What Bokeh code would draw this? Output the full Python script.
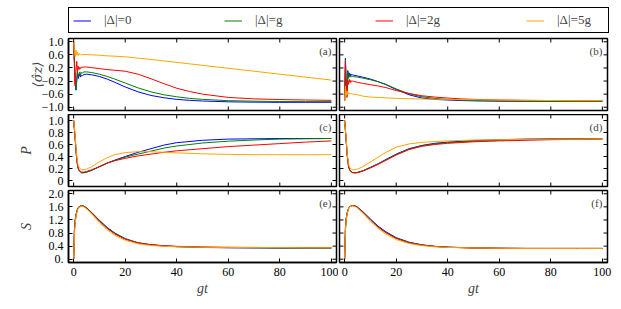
import math
from bokeh.plotting import figure
from bokeh.layouts import column, row
from bokeh.models import Range1d, FixedTicker, Label
from bokeh.embed import file_html
from bokeh.resources import INLINE

# ---------------- data ----------------
series_labels = ["|Δ|=0", "|Δ|=g", "|Δ|=2g", "|Δ|=5g"]
series_colors = ["#0000ff", "#008000", "#ff0000", "#ffa500"]

x_ticks = [0, 20, 40, 60, 80, 100]

# <sigma_z>
t_sz = [0, 0.3, 0.6, 0.9, 1.2, 1.5, 1.8, 2.1, 2.4, 2.7, 3, 3.5, 4, 5, 7, 10, 13, 16, 20,
        25, 30, 35, 40, 45, 50, 60, 70, 80, 90, 100]
sz_a_0 = [1.0, 0.4, -0.3, -0.48, -0.2, 0.05, -0.12, -0.05, 0.02, -0.08, -0.02, -0.03, 0.0, 0.01,
          -0.01, -0.06, -0.14, -0.24, -0.38, -0.53, -0.64, -0.71, -0.76, -0.79, -0.81, -0.835,
          -0.845, -0.85, -0.85, -0.85]
sz_a_g = [1.0, 0.45, -0.25, -0.45, -0.15, 0.1, -0.05, 0.02, 0.08, 0.0, 0.06, 0.05, 0.08, 0.08,
          0.06, 0.01, -0.06, -0.14, -0.26, -0.41, -0.53, -0.62, -0.68, -0.73, -0.76, -0.8,
          -0.815, -0.825, -0.83, -0.83]
sz_a_2g = [1.0, 0.2, -0.35, 0.1, 0.4, 0.1, 0.25, 0.15, 0.22, 0.18, 0.23, 0.22, 0.23, 0.23,
           0.21, 0.18, 0.15, 0.13, 0.1, 0.01, -0.13, -0.28, -0.42, -0.52, -0.6, -0.7, -0.745,
           -0.765, -0.78, -0.79]
sz_a_5g = [1.0, 0.7, 0.55, 0.75, 0.6, 0.68, 0.58, 0.64, 0.6, 0.62, 0.6, 0.61, 0.61, 0.61, 0.6,
           0.59, 0.57, 0.56, 0.54, 0.5, 0.46, 0.415, 0.37, 0.325, 0.28, 0.19, 0.10, 0.01,
           -0.08, -0.17]
sz_b_0 = [-0.8, 0.5, -0.3, -0.65, 0.12, -0.1, 0.05, -0.05, 0.02, -0.02, -0.01, -0.02, -0.03,
          -0.045, -0.08, -0.14, -0.22, -0.31, -0.46, -0.62, -0.72, -0.76, -0.78, -0.795,
          -0.805, -0.815, -0.82, -0.82, -0.82, -0.82]
sz_b_g = [-0.8, 0.45, -0.35, -0.6, 0.08, -0.12, 0.0, -0.08, -0.04, -0.07, -0.06, -0.065,
          -0.07, -0.08, -0.11, -0.16, -0.22, -0.3, -0.44, -0.59, -0.68, -0.73, -0.76, -0.78,
          -0.795, -0.81, -0.815, -0.82, -0.82, -0.82]
sz_b_2g = [-0.8, 0.4, -0.45, -0.7, -0.15, -0.3, -0.15, -0.25, -0.18, -0.22, -0.2, -0.21,
           -0.22, -0.24, -0.27, -0.31, -0.35, -0.4, -0.49, -0.58, -0.65, -0.69, -0.72,
           -0.745, -0.76, -0.78, -0.79, -0.795, -0.8, -0.8]
sz_b_5g = [-0.8, -0.35, -0.65, -0.5, -0.62, -0.55, -0.6, -0.57, -0.6, -0.58, -0.6, -0.6,
           -0.61, -0.62, -0.66, -0.69, -0.7, -0.715, -0.73, -0.74, -0.75, -0.755, -0.76,
           -0.765, -0.77, -0.78, -0.79, -0.795, -0.8, -0.8]
sz_ticks = [-1.0, -0.6, -0.2, 0.2, 0.6, 1.0]
sz_tick_labels = ["−1.0", "−0.6", "−0.2", "0.2", "0.6", "1.0"]

# P
t_p = [0, 0.5, 1, 1.5, 2, 3, 4, 5, 7, 10, 13, 16, 20, 25, 30, 35, 40, 50, 60, 70, 80, 90, 100]
p_c_0 = [1.0, 0.75, 0.45, 0.25, 0.17, 0.13, 0.13, 0.14, 0.17, 0.23, 0.29, 0.34, 0.40, 0.47,
         0.53, 0.59, 0.63, 0.67, 0.69, 0.695, 0.70, 0.70, 0.70]
p_c_g = [1.0, 0.75, 0.45, 0.25, 0.17, 0.13, 0.13, 0.14, 0.17, 0.23, 0.29, 0.335, 0.39, 0.44,
         0.49, 0.54, 0.575, 0.625, 0.655, 0.675, 0.69, 0.695, 0.70]
p_c_2g = [1.0, 0.75, 0.45, 0.26, 0.18, 0.14, 0.14, 0.15, 0.18, 0.23, 0.29, 0.33, 0.37, 0.41,
          0.44, 0.47, 0.495, 0.53, 0.565, 0.59, 0.615, 0.64, 0.66]
p_c_5g = [1.0, 0.8, 0.5, 0.3, 0.22, 0.18, 0.18, 0.19, 0.23, 0.31, 0.38, 0.43, 0.465, 0.48,
          0.48, 0.47, 0.46, 0.445, 0.435, 0.43, 0.43, 0.43, 0.43]
p_d_0 = [1.0, 0.72, 0.42, 0.24, 0.17, 0.135, 0.13, 0.135, 0.16, 0.22, 0.28, 0.35, 0.44, 0.53,
         0.585, 0.62, 0.64, 0.665, 0.68, 0.69, 0.695, 0.695, 0.70]
p_d_g = [1.0, 0.72, 0.42, 0.24, 0.17, 0.135, 0.13, 0.135, 0.16, 0.215, 0.275, 0.345, 0.435,
         0.525, 0.58, 0.61, 0.63, 0.655, 0.67, 0.68, 0.69, 0.695, 0.695]
p_d_2g = [1.0, 0.72, 0.42, 0.24, 0.17, 0.13, 0.125, 0.13, 0.155, 0.21, 0.27, 0.335, 0.425,
          0.515, 0.57, 0.6, 0.62, 0.645, 0.66, 0.67, 0.68, 0.685, 0.69]
p_d_5g = [1.0, 0.75, 0.45, 0.28, 0.21, 0.18, 0.18, 0.19, 0.23, 0.31, 0.39, 0.47, 0.555, 0.61,
          0.635, 0.65, 0.66, 0.675, 0.68, 0.685, 0.69, 0.69, 0.695]
p_ticks = [0.0, 0.2, 0.4, 0.6, 0.8, 1.0]
p_tick_labels = ["0", "0.2", "0.4", "0.6", "0.8", "1.0"]

# S
t_s = [0, 0.3, 0.6, 1, 1.5, 2, 3, 4, 5, 7, 10, 13, 16, 20, 25, 30, 35, 40, 50, 60, 70, 80, 90, 100]
s_e_0 = [0, 0.9, 1.2, 1.4, 1.53, 1.6, 1.64, 1.62, 1.57, 1.43, 1.19, 0.97, 0.8, 0.63, 0.5,
         0.44, 0.405, 0.385, 0.36, 0.35, 0.345, 0.34, 0.34, 0.34]
s_e_g = [0, 0.9, 1.2, 1.4, 1.53, 1.6, 1.64, 1.62, 1.57, 1.42, 1.18, 0.96, 0.79, 0.62, 0.5,
         0.44, 0.405, 0.385, 0.365, 0.355, 0.35, 0.345, 0.345, 0.345]
s_e_2g = [0, 0.85, 1.15, 1.38, 1.52, 1.59, 1.63, 1.61, 1.56, 1.41, 1.16, 0.94, 0.77, 0.61, 0.5,
          0.445, 0.415, 0.395, 0.375, 0.365, 0.36, 0.355, 0.355, 0.355]
s_e_5g = [0, 0.75, 1.1, 1.35, 1.5, 1.58, 1.62, 1.6, 1.54, 1.38, 1.12, 0.9, 0.73, 0.58, 0.47,
          0.42, 0.395, 0.38, 0.365, 0.36, 0.355, 0.355, 0.35, 0.35]
s_f_0 = [0, 0.95, 1.25, 1.42, 1.55, 1.61, 1.64, 1.63, 1.59, 1.46, 1.23, 1.01, 0.84, 0.66, 0.52,
         0.44, 0.395, 0.37, 0.345, 0.335, 0.33, 0.33, 0.33, 0.33]
s_f_g = [0, 0.95, 1.25, 1.42, 1.55, 1.61, 1.64, 1.63, 1.58, 1.45, 1.21, 0.99, 0.82, 0.645,
         0.51, 0.435, 0.39, 0.365, 0.345, 0.335, 0.33, 0.33, 0.33, 0.33]
s_f_2g = [0, 0.92, 1.22, 1.41, 1.54, 1.6, 1.64, 1.62, 1.58, 1.44, 1.2, 0.98, 0.81, 0.635, 0.5,
          0.43, 0.39, 0.365, 0.345, 0.335, 0.33, 0.33, 0.33, 0.33]
s_f_5g = [0, 0.85, 1.18, 1.4, 1.53, 1.6, 1.63, 1.61, 1.56, 1.41, 1.16, 0.94, 0.77, 0.6, 0.48,
          0.415, 0.38, 0.36, 0.345, 0.335, 0.33, 0.33, 0.33, 0.33]
s_ticks = [0.0, 0.4, 0.8, 1.2, 1.6, 2.0]
s_tick_labels = ["0.", "0.4", "0.8", "1.2", "1.6", "2.0"]

FONT = "'Liberation Serif', 'DejaVu Serif', serif"
LABEL_FONT = "'DejaVu Serif', serif"
X0, X1 = -2, 102


def style_axis(ax, ticks, overrides=None):
    ax.ticker = FixedTicker(ticks=ticks)
    ax.major_tick_in = 4
    ax.major_tick_out = 0
    ax.major_tick_line_color = "black"
    ax.major_tick_line_width = 1
    ax.minor_tick_line_color = None
    ax.axis_line_color = "black"
    ax.axis_line_width = 1.5
    ax.major_label_text_font = FONT
    ax.major_label_text_font_size = "12px"
    ax.major_label_text_color = "black"
    ax.major_label_standoff = 5
    if overrides:
        ax.major_label_overrides = overrides


def inner_ticks(p, xs, ys, angle):
    p.ray(x=xs, y=ys, length=4, length_units="screen", angle=angle,
          line_color="black", line_width=1)


def make_panel(t, ys, yr, yticks, ytick_labels, ylabel, ylabel_standoff, tag, tag_y,
               is_left, is_bottom, top_border, bottom_border):
    width = 338 if is_left else 274
    height = top_border + 72 + bottom_border
    p = figure(width=width, height=height, x_range=Range1d(X0, X1), y_range=Range1d(*yr),
               output_backend="svg", toolbar_location=None,
               min_border_left=68 if is_left else 1, min_border_right=2 if is_left else 5,
               min_border_top=top_border, min_border_bottom=bottom_border)
    p.grid.visible = False
    p.outline_line_color = "black"
    p.outline_line_width = 1.5
    p.background_fill_color = "white"
    p.border_fill_color = "white"

    for y, c in zip(ys, series_colors):
        p.line(t, y, line_color=c, line_width=1)

    xb = p.xaxis[0]
    yl = p.yaxis[0]

    # top and right ticks (always inward, no labels)
    inner_ticks(p, x_ticks, [yr[1]] * len(x_ticks), -math.pi / 2)
    inner_ticks(p, [X1] * len(yticks), yticks, math.pi)

    if is_bottom:
        style_axis(xb, x_ticks)
        xb.axis_label = "gt"
        xb.axis_label_text_font = FONT
        xb.axis_label_text_font_style = "italic"
        xb.axis_label_text_font_size = "14px"
        xb.axis_label_standoff = 2
    else:
        xb.visible = False
        inner_ticks(p, x_ticks, [yr[0]] * len(x_ticks), math.pi / 2)

    if is_left:
        style_axis(yl, yticks, {float(k): v for k, v in zip(yticks, ytick_labels)})
        yl.axis_label = ylabel
        yl.axis_label_text_font = LABEL_FONT if tag == "(a)" else FONT
        yl.axis_label_text_font_style = "italic"
        yl.axis_label_text_font_size = "13px" if tag == "(a)" else "14px"
        yl.axis_label_standoff = ylabel_standoff
    else:
        yl.visible = False
        inner_ticks(p, [X0] * len(yticks), yticks, 0)

    p.add_layout(Label(x=100, y=tag_y, text=tag, text_align="right", text_baseline="middle",
                       text_font=FONT, text_font_size="11px", text_color="#444444"))
    return p


pa = make_panel(t_sz, [sz_a_0, sz_a_g, sz_a_2g, sz_a_5g], (-1.1, 1.1), sz_ticks, sz_tick_labels,
                "⟨σ̂z⟩", -6, "(a)", 0.733, True, False, 3, 4)
pb = make_panel(t_sz, [sz_b_0, sz_b_g, sz_b_2g, sz_b_5g], (-1.1, 1.1), sz_ticks, sz_tick_labels,
                "", 0, "(b)", 0.733, False, False, 3, 4)
pc = make_panel(t_p, [p_c_0, p_c_g, p_c_2g, p_c_5g], (-0.1, 1.1), p_ticks, p_tick_labels,
                "P", 12, "(c)", 0.9, True, False, 0, 2)
pd = make_panel(t_p, [p_d_0, p_d_g, p_d_2g, p_d_5g], (-0.1, 1.1), p_ticks, p_tick_labels,
                "", 0, "(d)", 0.9, False, False, 0, 2)
pe = make_panel(t_s, [s_e_0, s_e_g, s_e_2g, s_e_5g], (-0.1, 2.1), s_ticks, s_tick_labels,
                "S", 12, "(e)", 1.733, True, True, 2, 39)
pf = make_panel(t_s, [s_f_0, s_f_g, s_f_2g, s_f_5g], (-0.1, 2.1), s_ticks, s_tick_labels,
                "", 0, "(f)", 1.733, False, True, 2, 39)

# legend strip: the series are plotted out of view, only their legend entries show
lg = figure(width=612, height=35, x_range=Range1d(0, 1), y_range=Range1d(10, 11),
            x_axis_type=None, y_axis_type=None, output_backend="svg", toolbar_location=None,
            min_border=0)
lg.grid.visible = False
lg.outline_line_color = None
for lab, c, y in zip(series_labels, series_colors, [sz_a_0, sz_a_g, sz_a_2g, sz_a_5g]):
    lg.line(t_sz, y, line_color=c, line_width=1, legend_label=lab)
leg = lg.legend[0]
leg.orientation = "horizontal"
leg.location = (68, 2)
leg.padding = 4
leg.spacing = 73
leg.margin = 0
leg.glyph_width = 18
leg.glyph_height = 13
leg.label_height = 13
leg.label_width = 47
leg.label_standoff = 13
leg.border_line_color = "black"
leg.border_line_width = 1.5
leg.border_line_alpha = 1
leg.background_fill_alpha = 1
leg.label_text_font = FONT
leg.label_text_font_size = "13px"
leg.label_text_baseline = "middle"

layout = column(lg, row(pa, pb), row(pc, pd), row(pe, pf))

open("out.html", "w").write(file_html(layout, INLINE))
